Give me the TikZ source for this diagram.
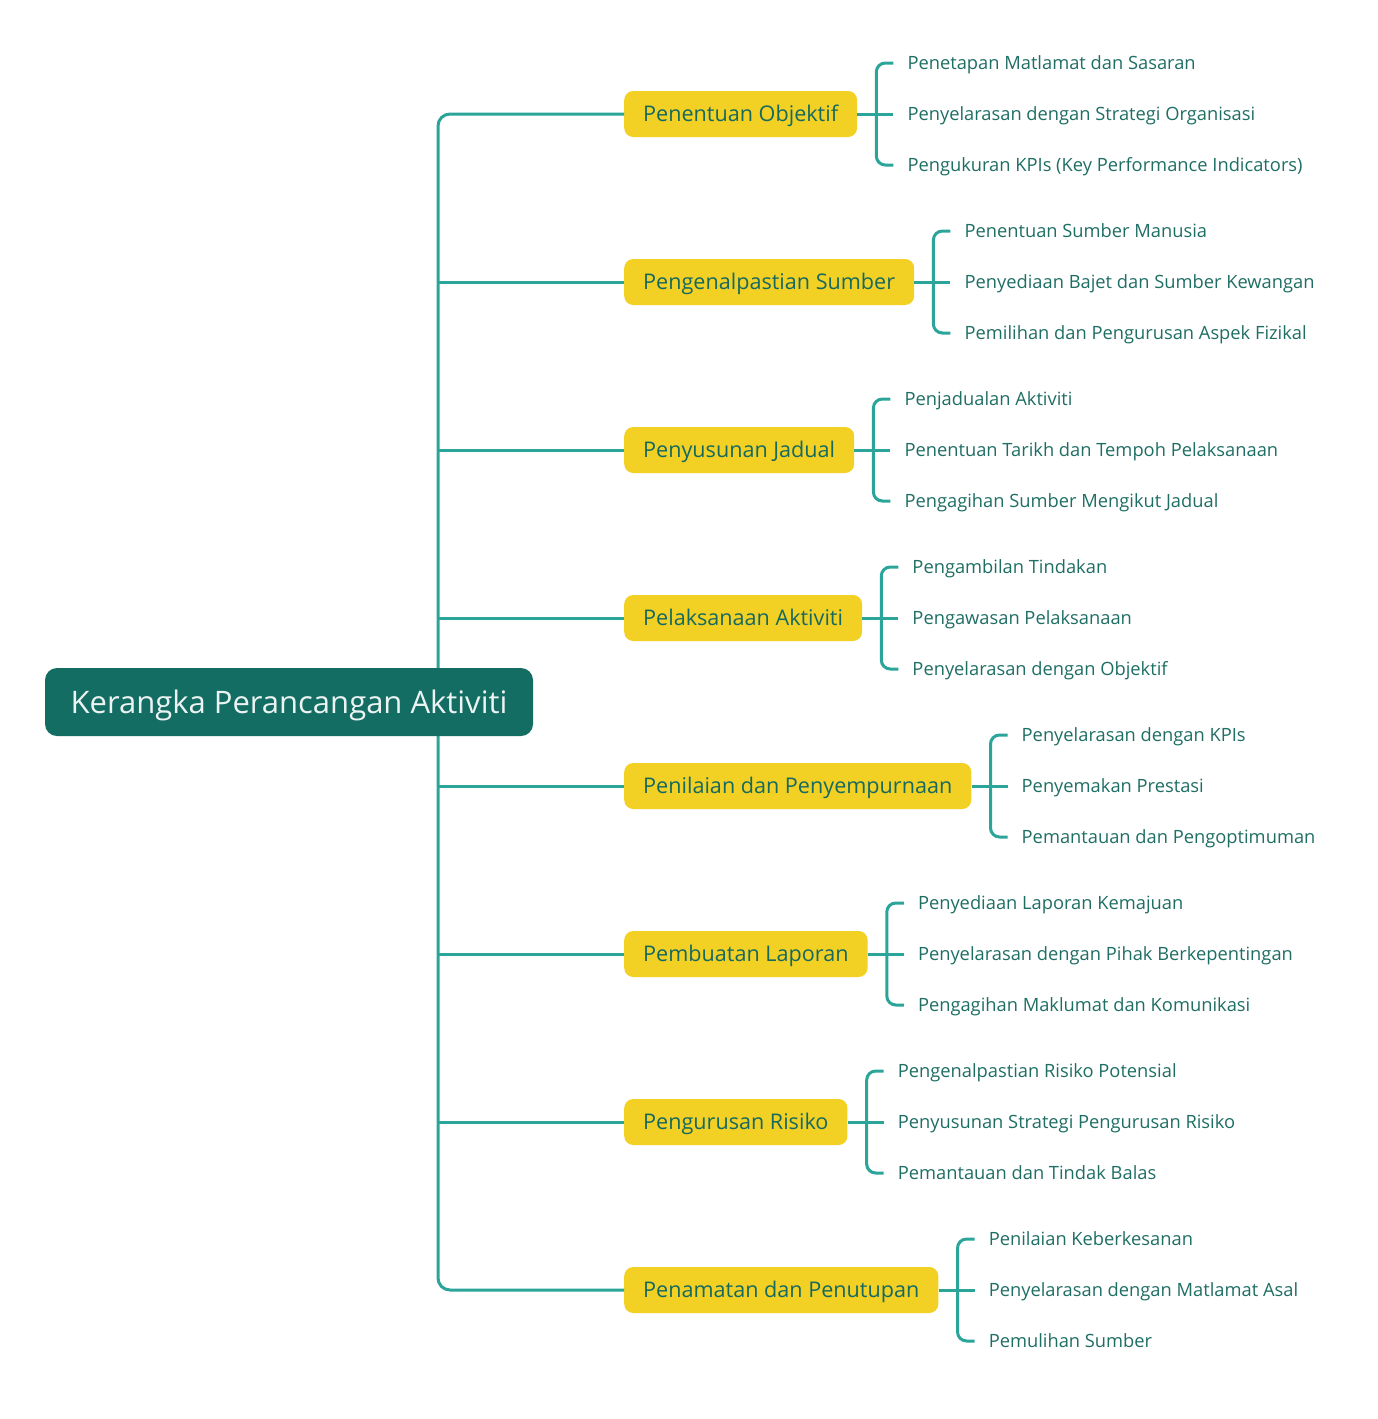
\documentclass[tikz,border=0pt]{standalone}
\usepackage{fontspec}
\setmainfont{Open Sans}
\usetikzlibrary{calc,positioning}
\definecolor{KPARoot}{HTML}{136D62}
\definecolor{KPALine}{HTML}{2BA59A}
\definecolor{KPAGold}{HTML}{F3D124}
\definecolor{KPAInk}{HTML}{16695F}
\definecolor{KPALeaf}{HTML}{1E6E64}
\begin{document}
\begin{tikzpicture}[
      x=1pt,y=-1pt,
      conn/.style={line width=3pt,draw=KPALine,rounded corners=9pt},
      rootbox/.style={fill=KPARoot,rounded corners=12pt,text=white!92!KPARoot,
        minimum width=488pt,minimum height=68pt,inner sep=0pt,
        text height=22.3pt,text depth=0pt,
        font=\fontsize{31}{36}\selectfont},
      branchbox/.style={fill=KPAGold,rounded corners=9pt,text=KPAInk,anchor=west,
        minimum height=46pt,inner xsep=19pt,inner ysep=0pt,
        text height=15.6pt,text depth=0pt,
        font=\fontsize{21.6}{26}\selectfont},
      leaf/.style={anchor=west,inner sep=0pt,text=KPALeaf,
        text height=13.2pt,text depth=0pt,
        font=\fontsize{18.3}{22}\selectfont}
    ]
    \path[use as bounding box] (0,0) rectangle (1378,1419);

    % main branches with their three leaves
    \foreach \i/\bname/\la/\lb/\lc in {
      1/{Penentuan Objektif}/{Penetapan Matlamat dan Sasaran}/{Penyelarasan dengan Strategi Organisasi}/{Pengukuran KPIs (Key Performance Indicators)},
      2/{Pengenalpastian Sumber}/{Penentuan Sumber Manusia}/{Penyediaan Bajet dan Sumber Kewangan}/{Pemilihan dan Pengurusan Aspek Fizikal},
      3/{Penyusunan Jadual}/{Penjadualan Aktiviti}/{Penentuan Tarikh dan Tempoh Pelaksanaan}/{Pengagihan Sumber Mengikut Jadual},
      4/{Pelaksanaan Aktiviti}/{Pengambilan Tindakan}/{Pengawasan Pelaksanaan}/{Penyelarasan dengan Objektif},
      5/{Penilaian dan Penyempurnaan}/{Penyelarasan dengan KPIs}/{Penyemakan Prestasi}/{Pemantauan dan Pengoptimuman},
      6/{Pembuatan Laporan}/{Penyediaan Laporan Kemajuan}/{Penyelarasan dengan Pihak Berkepentingan}/{Pengagihan Maklumat dan Komunikasi},
      7/{Pengurusan Risiko}/{Pengenalpastian Risiko Potensial}/{Penyusunan Strategi Pengurusan Risiko}/{Pemantauan dan Tindak Balas},
      8/{Penamatan dan Penutupan}/{Penilaian Keberkesanan}/{Penyelarasan dengan Matlamat Asal}/{Pemulihan Sumber}} {
      \node[branchbox] (b\i) at (624,{114+168*(\i-1)}) {\bname};
      \coordinate (k\i) at ($(b\i.east)+(19,0)$);
      \node[leaf] (b\i a) at ($(k\i)+(31,-51)$) {\la};
      \node[leaf] (b\i b) at ($(k\i)+(31,0)$) {\lb};
      \node[leaf] (b\i c) at ($(k\i)+(31,51)$) {\lc};
      \draw[conn] ([xshift=-14pt]b\i a.west) -| (k\i) |- ([xshift=-14pt]b\i c.west);
      \draw[conn] (b\i.east) -- ([xshift=-14pt]b\i b.west);
    }

    % trunk from the root to every branch
    \coordinate (t1) at (438,114);
    \coordinate (t8) at (438,1290);
    \draw[conn,rounded corners=12pt] (b1.west) -- (t1) -- (t8) -- (b8.west);
    \foreach \i in {2,...,7}
      \draw[conn] (b\i.west -| t1) -- (b\i.west);

    \node[rootbox] (root) at (289,702) {Kerangka Perancangan Aktiviti};
  \end{tikzpicture}
\end{document}
